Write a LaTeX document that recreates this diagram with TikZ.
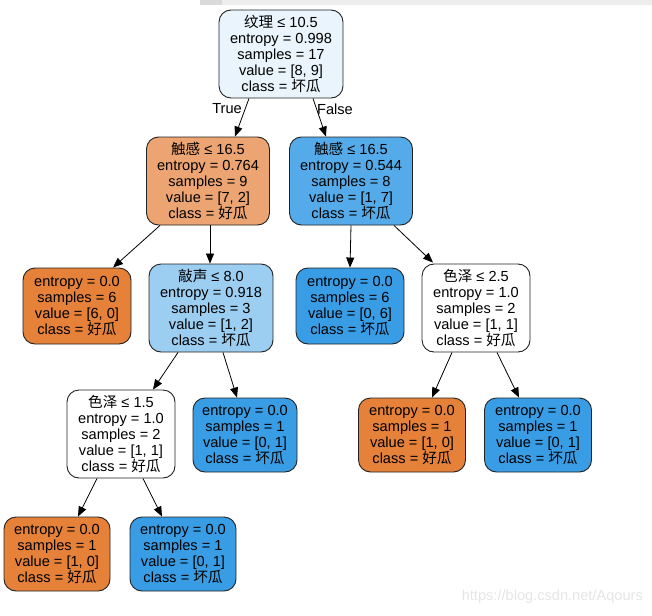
\documentclass[tikz,border=0pt]{standalone}
\usepackage{fontspec}
\setmainfont{Liberation Sans}
\newfontfamily\cjk{Noto Sans CJK SC}
\usetikzlibrary{arrows.meta}
\definecolor{rootc}{HTML}{E9F4FC}
\definecolor{lightor}{HTML}{ECA572}
\definecolor{midblue}{HTML}{55ABE9}
\definecolor{paleblue}{HTML}{9CCEF2}
\definecolor{orng}{HTML}{E58139}
\definecolor{blu}{HTML}{399DE5}
\definecolor{edgec}{HTML}{222222}
\tikzset{
  tn/.style={draw=edgec, rounded corners=12pt, line width=0.9pt, align=center,
    font=\fontsize{14.6}{16}\selectfont, inner sep=0pt, minimum height=88pt},
  leaf/.style={tn, minimum height=75pt},
  arr/.style={-{Triangle[length=10pt,width=8pt]}, line width=0.8pt, black},
  lbl/.style={font=\fontsize{14.6}{16}\selectfont, inner sep=0pt}
}
\begin{document}
\begin{tikzpicture}[x=1pt,y=-1pt]
\useasboundingbox (0,0) rectangle (652,615);
% screenshot bar
\fill[black!7] (200,0) rectangle (652,5);
\fill[black!15] (200,0) rectangle (222,5);

\node[tn, fill=rootc, minimum width=124pt] (root) at (281,54)
  {{\cjk 纹理} ≤ 10.5\\entropy = 0.998\\samples = 17\\value = [8, 9]\\class = {\cjk 坏瓜}};
\node[tn, fill=lightor, minimum width=123pt] (L1) at (208,181)
  {{\cjk 触感} ≤ 16.5\\entropy = 0.764\\samples = 9\\value = [7, 2]\\class = {\cjk 好瓜}};
\node[tn, fill=midblue, minimum width=123pt] (R1) at (351,181)
  {{\cjk 触感} ≤ 16.5\\entropy = 0.544\\samples = 8\\value = [1, 7]\\class = {\cjk 坏瓜}};
\node[leaf, fill=orng, minimum width=108pt, minimum height=76pt] (L2a) at (77,306)
  {entropy = 0.0\\samples = 6\\value = [6, 0]\\class = {\cjk 好瓜}};
\node[tn, fill=paleblue, minimum width=124pt] (L2b) at (211,308)
  {{\cjk 敲声} ≤ 8.0\\entropy = 0.918\\samples = 3\\value = [1, 2]\\class = {\cjk 坏瓜}};
\node[leaf, fill=blu, minimum width=108pt, minimum height=76pt] (R2a) at (350,306)
  {entropy = 0.0\\samples = 6\\value = [0, 6]\\class = {\cjk 坏瓜}};
\node[tn, fill=white, minimum width=108pt] (R2b) at (476,308)
  {{\cjk 色泽} ≤ 2.5\\entropy = 1.0\\samples = 2\\value = [1, 1]\\class = {\cjk 好瓜}};
\node[tn, fill=white, minimum width=108pt] (L3a) at (121,434)
  {{\cjk 色泽} ≤ 1.5\\entropy = 1.0\\samples = 2\\value = [1, 1]\\class = {\cjk 好瓜}};
\node[leaf, fill=blu, minimum width=104pt, minimum height=74pt] (L3b) at (245,435)
  {entropy = 0.0\\samples = 1\\value = [0, 1]\\class = {\cjk 坏瓜}};
\node[leaf, fill=orng, minimum width=107pt, minimum height=74pt] (R3a) at (412,435)
  {entropy = 0.0\\samples = 1\\value = [1, 0]\\class = {\cjk 好瓜}};
\node[leaf, fill=blu, minimum width=107pt, minimum height=74pt] (R3b) at (538,435)
  {entropy = 0.0\\samples = 1\\value = [0, 1]\\class = {\cjk 坏瓜}};
\node[leaf, fill=orng, minimum width=106pt, minimum height=74pt] (L4a) at (57,554)
  {entropy = 0.0\\samples = 1\\value = [1, 0]\\class = {\cjk 好瓜}};
\node[leaf, fill=blu, minimum width=106pt, minimum height=74pt] (L4b) at (183,554)
  {entropy = 0.0\\samples = 1\\value = [0, 1]\\class = {\cjk 坏瓜}};

\node[lbl] (tl) at (227,109) {True};
\node[lbl] (fl) at (335,109) {False};

\draw[arr] ([xshift=-32pt]root.south) -- ([xshift=27pt]L1.north);
\draw[arr] ([xshift=32pt]root.south) -- ([xshift=-25pt]R1.north);
\draw[arr] ([xshift=-48pt]L1.south) -- ([xshift=36pt]L2a.north);
\draw[arr] ([xshift=2pt]L1.south) -- ([xshift=-1pt]L2b.north);
\draw[arr] (R1.south) -- (R2a.north);
\draw[arr] ([xshift=43pt]R1.south) -- ([xshift=-43pt,yshift=1pt]R2b.north);
\draw[arr] ([xshift=-33pt]L2b.south) -- ([xshift=32pt]L3a.north);
\draw[arr] ([xshift=12pt]L2b.south) -- ([xshift=-8pt]L3b.north);
\draw[arr] ([xshift=-24pt]R2b.south) -- ([xshift=20pt]R3a.north);
\draw[arr] ([xshift=21pt]R2b.south) -- ([xshift=-19pt]R3b.north);
\draw[arr] ([xshift=-24pt]L3a.south) -- ([xshift=21pt]L4a.north);
\draw[arr] ([xshift=22pt]L3a.south) -- ([xshift=-21pt]L4b.north);

\node[font=\fontsize{14.6}{16}\selectfont, text=black!10, anchor=east, inner sep=0pt] (wm) at (643,597) {https://blog.csdn.net/Aqours};
\end{tikzpicture}
\end{document}
